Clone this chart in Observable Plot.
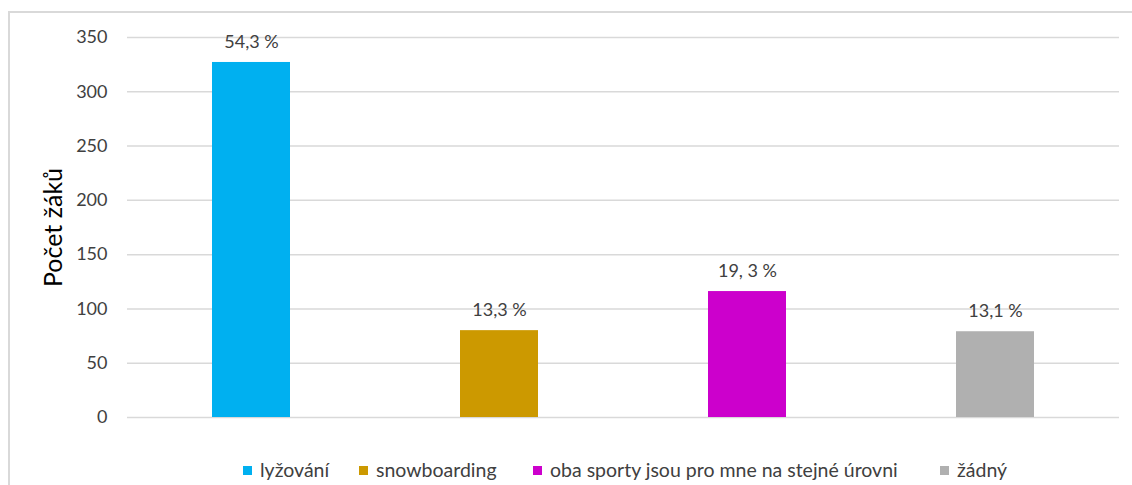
<!DOCTYPE html>
<html>
<head>
<meta charset="utf-8">
<script src="https://cdn.jsdelivr.net/npm/d3@7"></script>
<script src="https://cdn.jsdelivr.net/npm/@observablehq/plot@0.6"></script>
<style>
  html, body { margin: 0; padding: 0; background: #fff; }
  #wrap { position: relative; width: 1132px; height: 485px; overflow: hidden; font-family: Lato, sans-serif; }
  #border { position: absolute; left: 8px; top: 11px; width: 1140px; height: 520px; border: 2px solid #d9d9d9; box-sizing: border-box; }
  #chart { position: absolute; left: 0; top: 0; }
  #legend { position: absolute; left: 0; top: 455px; width: 1132px; height: 30px; }
  .item { position: absolute; top: 0; display: flex; align-items: center; font-size: 19.5px; color: #404040; white-space: nowrap; line-height: 30px; }
  .sw { width: 9px; height: 9px; margin-right: 8px; }
</style>
</head>
<body>
<div id="wrap">
  <div id="border"></div>
  <div id="chart"></div>
  <div id="legend"></div>
</div>
<script>
const categories = ["lyžování", "snowboarding", "oba sporty jsou pro mne na stejné úrovni", "žádný"];
const counts = [327, 80, 116, 79];
const percentLabels = ["54,3 %", "13,3 %", "19, 3 %", "13,1 %"];
const colors = ["#00b0f0", "#cc9900", "#cc00cc", "#b0b0b0"];
const yTicks = [0, 50, 100, 150, 200, 250, 300, 350];
const yLabel = "Počet žáků";

const data = categories.map((c, i) => ({category: c, count: counts[i], label: percentLabels[i]}));

const chart = Plot.plot({
  width: 1132,
  height: 450,
  marginLeft: 127,
  marginRight: 13,
  marginTop: 37,
  marginBottom: 33,
  style: {fontFamily: "Lato, sans-serif", background: "transparent", color: "#404040"},
  x: {domain: categories, paddingInner: 0.685, paddingOuter: 0.3425, axis: null},
  y: {domain: [0, 350], ticks: yTicks},
  color: {domain: categories, range: colors},
  marks: [
    Plot.ruleY(yTicks, {stroke: "#d9d9d9", strokeWidth: 1.5}),
    Plot.barY(data, {x: "category", y: "count", fill: "category"}),
    Plot.axisY({ticks: yTicks, tickSize: 0, tickPadding: 20, label: null, fontSize: 18, fill: "#404040"}),
    Plot.text(data, {x: "category", y: "count", text: "label", dy: -20, fontSize: 18, fill: "#404040"}),
    Plot.text([yLabel], {frameAnchor: "left", textAnchor: "middle", dx: -74, rotate: -90, fontSize: 25, fill: "#000"})
  ]
});
document.getElementById("chart").appendChild(chart);

const legendX = [243, 359, 533, 940];
const legend = document.getElementById("legend");
categories.forEach((c, i) => {
  const it = document.createElement("div");
  it.className = "item";
  it.style.left = legendX[i] + "px";
  const sw = document.createElement("span");
  sw.className = "sw";
  sw.style.background = colors[i];
  const t = document.createElement("span");
  t.textContent = c;
  it.appendChild(sw);
  it.appendChild(t);
  legend.appendChild(it);
});
</script>
</body>
</html>
